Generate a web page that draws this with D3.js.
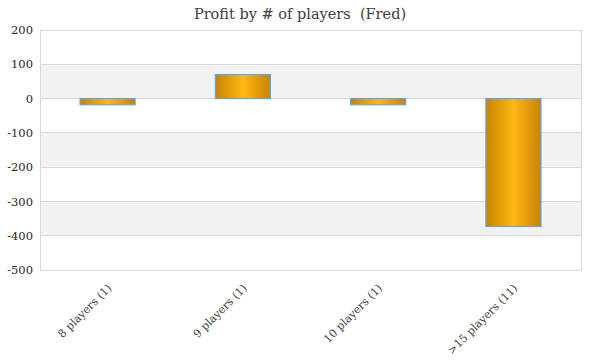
<!DOCTYPE html>
<html><head><meta charset="utf-8">
<script src="https://cdn.jsdelivr.net/npm/d3@7"></script>
<style>body{margin:0;background:#fff}</style>
</head><body>
<svg id="c" width="600" height="360"></svg>
<script>
const categories = ["8 players (1)", "9 players (1)", "10 players (1)", ">15 players (11)"];
const profit = [-18, 70, -18, -373];
const yTicks = [200, 100, 0, -100, -200, -300, -400, -500];
const title = "Profit by # of players  (Fred)";

const svg = d3.select("#c");
const m = {l: 40, r: 19, t: 30, b: 90};
const W = 600, H = 360;
const x = d3.scaleBand().domain(categories).range([m.l, W - m.r]).paddingInner(0.593).paddingOuter(0.296);
const y = d3.scaleLinear().domain([-500, 200]).range([H - m.b, m.t]);
const serif = "'DejaVu Serif', serif";

const defs = svg.append("defs");
const g = defs.append("linearGradient").attr("id", "gold").attr("x1", "0").attr("x2", "1").attr("y1", "0").attr("y2", "0");
g.append("stop").attr("offset", "0%").attr("stop-color", "#c98300");
g.append("stop").attr("offset", "50%").attr("stop-color", "#fdb913");
g.append("stop").attr("offset", "100%").attr("stop-color", "#c98300");

for (let i = 0; i < yTicks.length - 1; i++) {
  if (i % 2 === 1) {
    svg.append("rect").attr("x", m.l).attr("width", W - m.r - m.l)
      .attr("y", y(yTicks[i])).attr("height", y(yTicks[i + 1]) - y(yTicks[i]))
      .attr("fill", "#f2f2f2");
  }
}
svg.append("g").selectAll("line").data(yTicks).join("line")
  .attr("x1", m.l).attr("x2", W - m.r).attr("y1", d => y(d)).attr("y2", d => y(d))
  .attr("stroke", "#d9d9d9").attr("stroke-width", 1).attr("shape-rendering", "crispEdges");
svg.append("rect").attr("x", m.l).attr("y", m.t).attr("width", W - m.r - m.l).attr("height", H - m.b - m.t)
  .attr("fill", "none").attr("stroke", "#d9d9d9").attr("shape-rendering", "crispEdges");

svg.append("g").selectAll("rect").data(profit).join("rect")
  .attr("x", (d, i) => x(categories[i]))
  .attr("width", x.bandwidth())
  .attr("y", d => y(Math.max(0, d)))
  .attr("height", d => Math.abs(y(d) - y(0)))
  .attr("fill", "url(#gold)")
  .attr("stroke", "#5ea6ee").attr("stroke-width", 1.2);

const ya = svg.append("g").attr("transform", `translate(${m.l},0)`)
  .call(d3.axisLeft(y).tickValues(yTicks).tickFormat(d => String(d)).tickSize(0).tickPadding(10));
ya.select(".domain").remove();
ya.selectAll("text").attr("font-family", serif).attr("font-size", 11.5).attr("fill", "#262626").attr("x", -7).attr("text-anchor", "end");

const xa = svg.append("g").attr("transform", `translate(0,${H - m.b})`)
  .call(d3.axisBottom(x).tickSize(0).tickPadding(0));
xa.select(".domain").remove();
xa.selectAll("text")
  .attr("font-family", serif).attr("font-size", 11).attr("fill", "#404040")
  .attr("text-anchor", "end").attr("dy", "0.35em")
  .attr("transform", "translate(2,16) rotate(-45)").attr("y", 0).attr("x", 0);

svg.append("text").attr("x", 300).attr("y", 19).attr("text-anchor", "middle")
  .attr("font-family", serif).attr("font-size", 14.5).attr("fill", "#404040")
  .style("white-space", "pre")
  .text(title);
</script>
</body></html>
